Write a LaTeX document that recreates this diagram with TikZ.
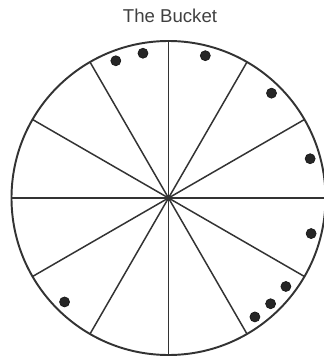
\documentclass[tikz,border=0pt]{standalone}
\usepackage{fontspec}
\setmainfont{Liberation Sans}
\usepackage{tikz}
\usetikzlibrary{positioning}

\begin{document}
\begin{tikzpicture}[
  x=0.02cm, y=0.02cm,
  rim/.style={draw=black!80, line width=1.1pt},
  spoke/.style={draw=black!80, line width=0.85pt},
  ball/.style={circle, fill=black!85, draw=black!90, line width=0.4pt,
               inner sep=0pt, minimum size=0.2cm},
  caption/.style={font=\fontsize{10.6}{12}\selectfont, text=black!75,
                  inner sep=0pt, anchor=base}
]
  \useasboundingbox (-168.5,-161) rectangle (155.5,198);
  \coordinate (hub) at (0,0);
  \node[caption] (title) at (1.5,175.3) {The Bucket};

  % wheel and its twelve slots
  \draw[rim] (hub) circle (157);
  \foreach \a in {0,30,...,330}
    \draw[spoke] (hub) -- ++(\a:157);

  % the balls sitting in the slots
  \foreach \a [count=\i] in {111,100,75.5,45.5,15.5,-14,-37,-46,-54,225}
    \path (hub) ++(\a:147) node[ball] (ball\i) {};
\end{tikzpicture}
\end{document}
